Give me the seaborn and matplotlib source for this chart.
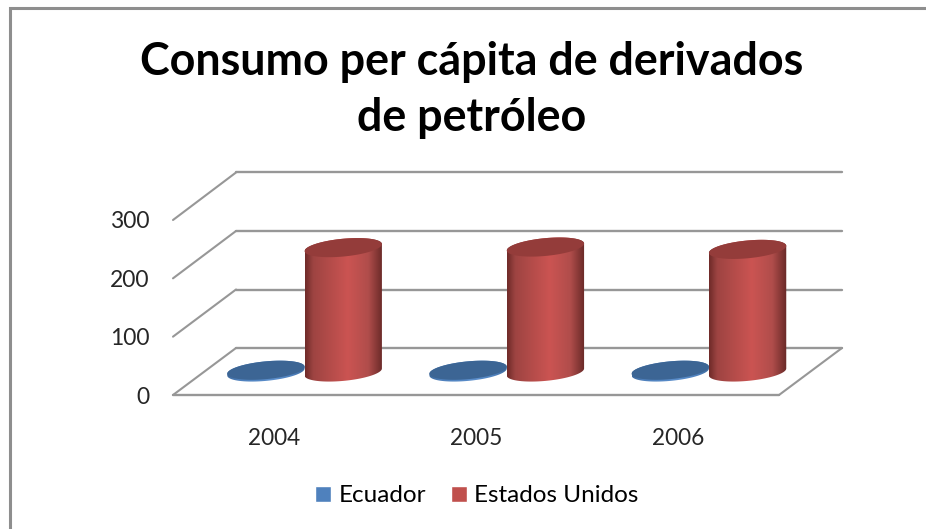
import numpy as np
import pandas as pd
import matplotlib
matplotlib.use('Agg')
import matplotlib.pyplot as plt
import seaborn as sn
from matplotlib.colors import LinearSegmentedColormap
from matplotlib.lines import Line2D
from matplotlib.patches import ConnectionPatch, Polygon

years = ['2004', '2005', '2006']
ecuador = [3, 3, 3]
estados_unidos = [212, 213, 209]
y_ticks = [0, 100, 200, 300]
title = 'Consumo per cápita de derivados\nde petróleo'

W, H = 926, 529
GREY = '#979797'

sn.set_style('white')
plt.rcParams['font.family'] = ['Lato', 'DejaVu Sans']
plt.rcParams['text.color'] = '#000000'

fig = plt.figure(figsize=(W / 100, H / 100), dpi=100)


# Axes placed by pixel box, y0 is the floor and y1 the 300 line
def plane(x0, x1, y0, y1):
    ax = fig.add_axes([x0 / W, 1 - y0 / H, (x1 - x0) / W, (y0 - y1) / H])
    ax.set_xlim(-0.5, 2.5)
    ax.set_ylim(0, 300)
    ax.patch.set_alpha(0)
    sn.despine(ax=ax, left=True, bottom=True, top=True, right=True)
    ax.set_xticks([])
    ax.set_yticks([])
    return ax


# Back wall, front edge, and the plane halfway that holds the cylinders
back = plane(236, 842, 348, 172.5)
front = plane(173, 779, 395, 220)
mid = plane(203.5, 810, 372, 196)

for v in y_ticks:
    back.axhline(v, color=GREY, lw=1.7, clip_on=False)
    con = ConnectionPatch((-0.5, v), (-0.5, v), 'data', 'data', axesA=front, axesB=back,
                          color=GREY, lw=1.5)
    fig.add_artist(con)
front.axhline(0, color=GREY, lw=1.7, clip_on=False)
fig.add_artist(ConnectionPatch((2.5, 0), (2.5, 0), 'data', 'data', axesA=front, axesB=back,
                               color=GREY, lw=1.5))

front.set_xticks(range(len(years)))
front.set_xticklabels(years, fontsize=16.3)
front.set_yticks(y_ticks)
front.set_yticklabels([str(v) for v in y_ticks], fontsize=16.5)
front.tick_params(axis='x', length=0, pad=24)
front.tick_params(axis='y', length=0, pad=17)

df = pd.DataFrame({
    'year': years * 2,
    'value': ecuador + estados_unidos,
    'country': ['Ecuador'] * len(years) + ['Estados Unidos'] * len(years),
})
sn.barplot(data=df, x='year', y='value', hue='country', ax=mid, width=0.765, saturation=1,
           palette=['#4f81bd', '#c0504d'], errorbar=None, legend=True)

# Shading of each series: side gradient stops and the colour of the cap
shades = [
    ([(0, '#3f6b9f'), (0.15, '#4f81bd'), (0.6, '#5b8ecb'), (0.85, '#4f81bd'), (1, '#3f6b9f')], '#3c6594'),
    ([(0, '#712c2a'), (0.1, '#9e4442'), (0.55, '#cb5452'), (0.82, '#b04d4b'), (1, '#6a2a28')], '#943c3a'),
]

px_y = (372 - 196) / 300
CAP_B = 8.9 / px_y
CAP_K = 3.5 / px_y
t = np.linspace(0, 2 * np.pi, 121)

for n, (container, (stops, cap_color)) in enumerate(zip(mid.containers, shades)):
    cmap = LinearSegmentedColormap.from_list('side', stops)
    for bar in container:
        x0 = bar.get_x()
        w = bar.get_width()
        h = bar.get_height()
        xs = x0 + w / 2 + w / 2 * np.cos(t)
        shape = CAP_B * np.sin(t) + CAP_K * np.cos(t)

        # body outline: top half of the cap on top, lower half of the base below
        low = t >= np.pi
        body_x = np.r_[xs[~low], xs[low]]
        body_y = np.r_[h + shape[~low], shape[low]]
        body = Polygon(np.c_[body_x, body_y], closed=True, transform=mid.transData, fc='none', ec='none')
        mid.add_patch(body)
        bar.set_visible(False)

        img = mid.imshow(np.linspace(0, 1, 64)[None, :], cmap=cmap, aspect='auto', zorder=2.1 + n,
                         extent=[x0, x0 + w, -CAP_B * 2, h + CAP_B * 2], interpolation='bilinear')
        img.set_clip_path(body)
        # images get cut to the axes box otherwise, and the base hangs below y=0
        img.set_clip_box(fig.bbox)

        mid.fill(xs, h + shape, color=cap_color, lw=0, zorder=2.2 + n, clip_on=False)

mid.set_xlim(-0.5, 2.5)
mid.set_ylim(0, 300)
mid.set_xticks([])
mid.set_yticks([])
mid.set_xlabel('')
mid.set_ylabel('')

sn.move_legend(mid, 'center', bbox_to_anchor=(477 / W, 1 - 496 / H), bbox_transform=fig.transFigure,
               ncol=2, title=None, frameon=False, fontsize=17.5, handlelength=0.65, handleheight=0.68,
               handletextpad=0.3, columnspacing=1.05)

fig.text(472 / W, 1 - 90 / H, title, ha='center', va='center', fontsize=32.3, fontweight='bold',
         linespacing=1.44)

# Only the top and left edges of the chart frame are in the picture
fig.add_artist(Line2D([10 / W, 10 / W, 1], [0, 1 - 7.5 / H, 1 - 7.5 / H], color='#8e8e8e', lw=2.2,
                      solid_joinstyle='miter'))

fig.savefig('out.png', dpi=100)
